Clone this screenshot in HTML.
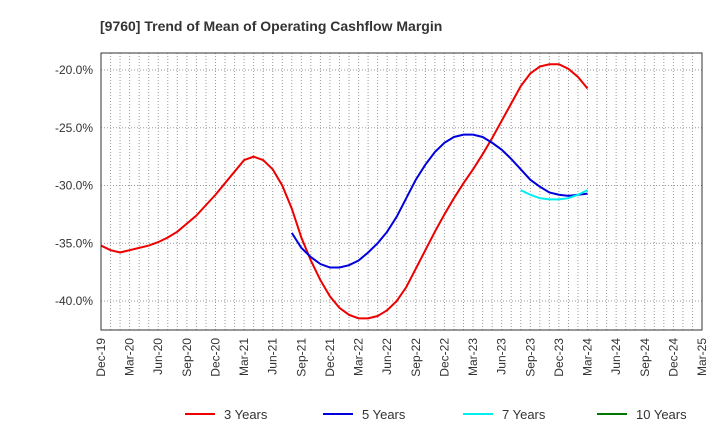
<!DOCTYPE html>
<html><head><meta charset="utf-8"><style>
body{margin:0;background:#fff;font-family:"Liberation Sans",sans-serif}
</style></head><body>
<svg width="720" height="440" id="c" xmlns="http://www.w3.org/2000/svg" font-family="Liberation Sans, sans-serif">
<text x="100" y="31" font-size="14" font-weight="bold" fill="#333">[9760]  Trend of Mean of Operating Cashflow Margin</text>
<g id="grid"></g><g id="series"></g><g id="axes"></g>
<g id="legend"></g>
</svg>
<script>
const xLabels=["Dec-19","Mar-20","Jun-20","Sep-20","Dec-20","Mar-21","Jun-21","Sep-21","Dec-21","Mar-22","Jun-22","Sep-22","Dec-22","Mar-23","Jun-23","Sep-23","Dec-23","Mar-24","Jun-24","Sep-24","Dec-24","Mar-25"];
const yTicks=[-20,-25,-30,-35,-40];
const s3Start=0;
const s3=[-35.2,-35.6,-35.8,-35.6,-35.4,-35.2,-34.9,-34.5,-34.0,-33.3,-32.6,-31.7,-30.8,-29.8,-28.8,-27.8,-27.5,-27.8,-28.6,-30.0,-32.0,-34.5,-36.5,-38.2,-39.6,-40.6,-41.2,-41.5,-41.5,-41.3,-40.8,-40.0,-38.8,-37.2,-35.6,-34.0,-32.5,-31.1,-29.8,-28.6,-27.3,-25.9,-24.4,-22.9,-21.4,-20.3,-19.7,-19.5,-19.5,-19.9,-20.6,-21.6];
const s5Start=20;
const s5=[-34.1,-35.4,-36.2,-36.8,-37.1,-37.1,-36.9,-36.5,-35.8,-35.0,-34.0,-32.7,-31.1,-29.5,-28.2,-27.1,-26.3,-25.8,-25.6,-25.6,-25.8,-26.3,-26.9,-27.7,-28.6,-29.5,-30.1,-30.6,-30.8,-30.9,-30.8,-30.7];
const s7Start=44;
const s7=[-30.4,-30.8,-31.1,-31.2,-31.2,-31.1,-30.8,-30.4];
const s10Start=0;
const s10=[];
const L=101,R=702,T=53,B=330,NM=63;
const xs=m=>L+m*(R-L)/NM;
const ys=v=>70+(v+20)*(-57.75/5);
const NS="http://www.w3.org/2000/svg";
function mk(t,a,p){const e=document.createElementNS(NS,t);for(const k in a)e.setAttribute(k,a[k]);p.appendChild(e);return e;}
const grid=document.getElementById('grid'),axes=document.getElementById('axes'),ser=document.getElementById('series'),leg=document.getElementById('legend');
for(let m=1;m<NM;m++){const l=mk('line',{x1:xs(m),x2:xs(m),y1:T,y2:B,stroke:'#999','stroke-dasharray':'1,2','stroke-width':1},grid);

}
yTicks.forEach(v=>{const l=mk('line',{x1:L,x2:R,y1:ys(v),y2:ys(v),stroke:'#999','stroke-dasharray':'1,2','stroke-width':1},grid);


const t=mk('text',{x:L-8,y:ys(v)+4,'text-anchor':'end','font-size':12,fill:'#333'},axes);t.textContent=v.toFixed(1)+'%';

});
const fr=mk('rect',{x:L,y:T,width:R-L,height:B-T,fill:'none',stroke:'#333','stroke-width':1},axes);


xLabels.forEach((s,i)=>{const x=xs(i*3);const t=mk('text',{x:x+4,y:B+8,'text-anchor':'end','font-size':12,fill:'#333',transform:`rotate(-90 ${x+4} ${B+8})`},axes);t.textContent=s;

});
function line(arr,st,col,name){if(!arr.length)return;const p=mk('polyline',{points:arr.map((v,i)=>xs(st+i)+','+ys(v)).join(' '),fill:'none',stroke:col,'stroke-width':2},ser);

}
line(s3,s3Start,'#e00','series-3-years');
line(s5,s5Start,'#00d','series-5-years');
line(s7,s7Start,'#0ee','series-7-years');
line(s10,s10Start,'#070','series-10-years');
[["3 Years","#e00",185],["5 Years","#00d",323],["7 Years","#0ee",463],["10 Years","#070",597]].forEach(([n,c,x])=>{
const g=mk('g',{},leg);


mk('line',{x1:x,x2:x+30,y1:414,y2:414,stroke:c,'stroke-width':2},g);
const t=mk('text',{x:x+39,y:419,'font-size':13,fill:'#333'},g);t.textContent=n;});
</script>
</body></html>
